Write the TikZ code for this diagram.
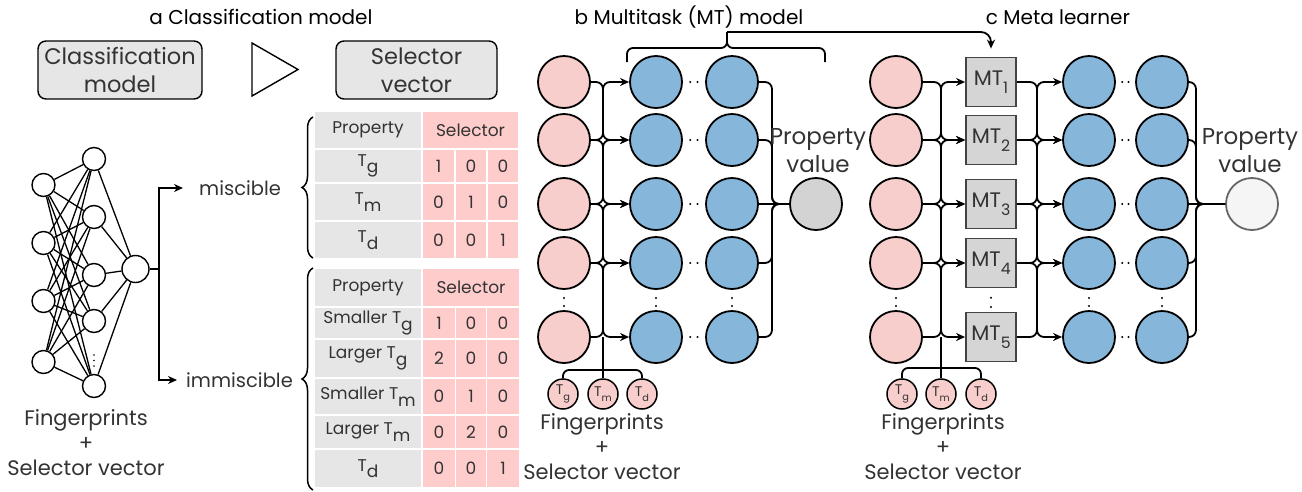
\documentclass[tikz,border=0pt]{standalone}
\usepackage{fontspec}
\setmainfont{Poppins}
\usepackage{graphicx}
\usetikzlibrary{arrows.meta,decorations.pathreplacing,calc}
\definecolor{pinkF}{HTML}{F8CECC}
\definecolor{blueF}{HTML}{86B7DB}
\definecolor{grayF}{HTML}{D3D3D3}
\definecolor{lightF}{HTML}{F5F5F5}
\definecolor{lightD}{HTML}{666666}
\definecolor{boxF}{HTML}{E6E6E6}
\definecolor{cellG}{HTML}{E6E6E6}
\definecolor{cellP}{HTML}{FFCCCC}
\definecolor{txt}{HTML}{333333}
\definecolor{mtF}{HTML}{D5D5D5}
\definecolor{mtD}{HTML}{444444}
\newcommand\lsub[2][0.85]{\raisebox{-0.38em}{\scalebox{#1}{#2}}}
\begin{document}
\begin{tikzpicture}[x=1pt,y=-1pt,
  nnc/.style={circle,draw,line width=1.4,fill=white,minimum size=23,inner sep=0},
  pinkc/.style={circle,draw,line width=1.8,fill=pinkF,minimum size=52,inner sep=0},
  bluec/.style={pinkc,fill=blueF},
  conn/.style={line width=1.8,rounded corners=7},
  arrowend/.style={-{Stealth[length=9,width=8]}},
  cellg/.style n args={2}{fill=cellG,minimum width=#1,minimum height=#2,inner sep=0,font=\fontsize{17}{19}\selectfont,text=txt},
  cellp/.style n args={2}{cellg={#1}{#2},fill=cellP},
  tnode/.style={circle,draw,line width=1.5,fill=pinkF,minimum size=30,inner sep=0,font=\fontsize{14}{14}\selectfont,text=txt},
  mtbox/.style={draw=mtD,line width=1.8,fill=mtF,minimum width=50,minimum height=49,inner sep=0,font=\fontsize{21}{21}\selectfont,text=txt},
  title/.style={font=\fontsize{20}{22}\selectfont,text=black},
  lbl/.style={font=\fontsize{21}{25}\selectfont,text=txt,align=center},
  pval/.style={font=\fontsize{23}{28}\selectfont,text=txt,align=center},
  roundbox/.style={draw,line width=1.4,fill=boxF,rounded corners=8,minimum width=#1,minimum height=58,align=center,font=\fontsize{22.5}{28}\selectfont,text=txt},
  brc/.style={decorate,decoration={brace,amplitude=11},line width=1.5},
  clab/.style={font=\fontsize{19.5}{21}\selectfont,text=txt,anchor=west},
]
\useasboundingbox (0,0) rectangle (1302,491);

% ---------- titles
\node[title] (ta) at (261,17) {a Classification model};
\node[title] (tb) at (689,17) {b Multitask (MT) model};
\node[title] (tc) at (1058,17) {c Meta learner};

% ---------- panel a
\node[roundbox=164] (clsbox) at (120,70) {Classification\\model};
\node[roundbox=161] (selbox) at (416.5,70) {Selector\\vector};
\draw[line width=1.4] (252,43) -- (298,69.5) -- (252,96) -- cycle;

\foreach \k/\y in {1/185,2/243,3/301,4/362} \node[nnc] (i\k) at (43.5,\y) {};
\foreach \k/\y in {1/159,2/217,3/275,4/321,5/386} \node[nnc] (h\k) at (94,\y) {};
\node[nnc,minimum size=27] (oa) at (135.5,269) {};
\foreach \k in {1,...,4} \foreach \j in {1,...,5} \draw[line width=1.3] (i\k) -- (h\j);
\foreach \j in {1,...,5} \draw[line width=1.3] (h\j) -- (oa);
\foreach \y in {355,360.5,366} \fill (94,\y) circle (0.9);

\node[lbl] (fpa) at (86,443) {Fingerprints\\+\\Selector vector};

\coordinate (juna) at (159,269);
\node[clab,inner xsep=16pt] (mis) at (183,188) {miscible};
\node[clab,inner xsep=9pt] (imm) at (177,380) {immiscible};
\draw[line width=1.6] (oa.east) -- (juna);
\draw[line width=1.6,arrowend] (juna) |- (mis.west);
\draw[line width=1.6,arrowend] (juna) |- (imm.west);

% braces
\draw[brc] (313,258) -- (313,117);
\draw[brc] (313,490) -- (313,268);

% top table
\node[cellg={106}{36}] (ah) at (368,130) {Property};
\node[cellp={95}{36}] (ahs) at (470.5,130) {Selector};
\node[cellg={106}{32}] (ar1) at (368,166) {T\lsub[1]{g}};
\node[cellg={106}{36}] (ar2) at (368,202) {T\lsub[1]{m}};
\node[cellg={106}{36}] (ar3) at (368,240) {T\lsub[1]{d}};
\foreach \n/\y/\h/\a/\b/\c in {1/166/32/1/0/0, 2/202/36/0/1/0, 3/240/36/0/0/1} {
  \node[cellp={31}{\h}] (as\n a) at (438.5,\y) {\a};
  \node[cellp={30}{\h}] (as\n b) at (471,\y) {\b};
  \node[cellp={30}{\h}] (as\n c) at (503,\y) {\c};
}
% bottom table
\node[cellg={106}{37}] (bh) at (368,287.5) {Property};
\node[cellp={96}{37}] (bhs) at (471,287.5) {Selector};
\node[cellg={106}{30}] (br1) at (368,323) {Smaller T\lsub[1]{g}};
\node[cellg={106}{37}] (br2) at (368,358.5) {Larger T\lsub[1]{g}};
\node[cellg={106}{35}] (br3) at (368,396.5) {Smaller T\lsub[1]{m}};
\node[cellg={106}{32}] (br4) at (368,432) {Larger T\lsub[1]{m}};
\node[cellg={106}{37}] (br5) at (368,468.5) {T\lsub[1]{d}};
\foreach \n/\y/\h/\a/\b/\c in {1/323/30/1/0/0, 2/358.5/37/2/0/0, 3/396.5/35/0/1/0, 4/432/32/0/2/0, 5/468.5/37/0/0/1} {
  \node[cellp={32}{\h}] (bs\n a) at (439,\y) {\a};
  \node[cellp={30}{\h}] (bs\n b) at (471,\y) {\b};
  \node[cellp={32}{\h}] (bs\n c) at (503,\y) {\c};
}

% ---------- panel b
\foreach \r/\y in {1/82,2/140,3/204,4/263,5/337} {
  \node[pinkc] (bp\r) at (564,\y) {};
  \node[bluec] (bb\r) at (656,\y) {};
  \node[bluec] (bc\r) at (732,\y) {};
}
\node[pinkc,fill=grayF] (bout) at (816,204) {};
\coordinate (busB1) at (603,0);
\coordinate (busB2) at (772,0);
\foreach \i/\j in {1/2,2/1,2/3,3/2,3/4,4/3,4/5,5/4} {
  \draw[conn,arrowend] (bp\i.east) -- (bp\i.east -| busB1) -- (busB1 |- bb\j.west) -- (bb\j.west);
}
\foreach \i in {1,2,4,5} \draw[conn] (bc\i.east) -- (bc\i.east -| busB2) -- (busB2 |- bout.west) -- (bout.west);
\draw[conn] (bc3) -- (bout);
\foreach \r in {1,...,5} {
  \fill ($(bb\r.east)!0.33!(bc\r.west)$) circle (1.1);
  \fill ($(bb\r.east)!0.66!(bc\r.west)$) circle (1.1);
}
\foreach \c in {bp,bb,bc} {
  \fill ($(\c4.south)!0.4!(\c5.north)$) circle (1.1);
  \fill ($(\c4.south)!0.8!(\c5.north)$) circle (1.1);
}
\node[pval] (pvb) at (818,151) {Property\\value};
\node[tnode] (btg) at (563,394) {T\lsub[0.7]{g}};
\node[tnode] (btm) at (603,394) {T\lsub[0.7]{m}};
\node[tnode] (btd) at (642,394) {T\lsub[0.7]{d}};
\coordinate (bTj) at (603,370);
\draw[conn,rounded corners=6] (btg.north) |- (bTj) -| (btd.north);
\draw[conn] (btm.north) -- (busB1 |- bp5.east);
\node[lbl] (fpb) at (602,447) {Fingerprints\\+\\Selector vector};

% top brace b -> c
\coordinate (brL) at (627,62);
\coordinate (brR) at (825,62);
\coordinate (brT) at (727,32);
\draw[conn,rounded corners=6] (brL) -- (627,48) -- (727,48) -- (brT);
\draw[conn,rounded corners=6] (brR) -- (825,48) -- (727,48) -- (brT);

% ---------- panel c
\foreach \r/\y in {1/82,2/140,3/204,4/263,5/337} {
  \node[pinkc] (cp\r) at (896,\y) {};
  \node[mtbox] (cm\r) at (991,\y) {MT\lsub[0.75]{\r}};
  \node[bluec] (cb\r) at (1089,\y) {};
  \node[bluec] (cc\r) at (1162,\y) {};
}
\node[pinkc,fill=lightF,draw=lightD] (cout) at (1252,204) {};
\coordinate (busC1) at (941,0);
\coordinate (busC2) at (1037,0);
\coordinate (busC3) at (1196,0);
\foreach \i/\j in {1/2,2/1,2/3,3/2,3/4,4/3,4/5,5/4} {
  \draw[conn,arrowend] (cp\i.east) -- (cp\i.east -| busC1) -- (busC1 |- cm\j.west) -- (cm\j.west);
  \draw[conn,arrowend] (cm\i.east) -- (cm\i.east -| busC2) -- (busC2 |- cb\j.west) -- (cb\j.west);
}
\foreach \i in {1,2,4,5} \draw[conn] (cc\i.east) -- (cc\i.east -| busC3) -- (busC3 |- cout.west) -- (cout.west);
\draw[conn] (cc3) -- (cout);
\foreach \r in {1,...,5} {
  \fill ($(cb\r.east)!0.33!(cc\r.west)$) circle (1.1);
  \fill ($(cb\r.east)!0.66!(cc\r.west)$) circle (1.1);
}
\foreach \c in {cp,cm,cb,cc} {
  \fill ($(\c4.south)!0.4!(\c5.north)$) circle (1.1);
  \fill ($(\c4.south)!0.8!(\c5.north)$) circle (1.1);
}
\node[pval] (pvc) at (1250,151) {Property\\value};
\node[tnode] (ctg) at (902,394) {T\lsub[0.7]{g}};
\node[tnode] (ctm) at (941,394) {T\lsub[0.7]{m}};
\node[tnode] (ctd) at (981,394) {T\lsub[0.7]{d}};
\coordinate (cTj) at (941,368);
\draw[conn,rounded corners=6] (ctg.north) |- (cTj) -| (ctd.north);
\draw[conn] (ctm.north) -- (busC1 |- cp5.east);
\node[lbl] (fpc) at (943,447) {Fingerprints\\+\\Selector vector};

% arrow from brace to MT1
\draw[conn,rounded corners=10,arrowend,shorten >=8pt] (brT) -- (brT -| cm1.north) -- (cm1.north);
\end{tikzpicture}
\end{document}
